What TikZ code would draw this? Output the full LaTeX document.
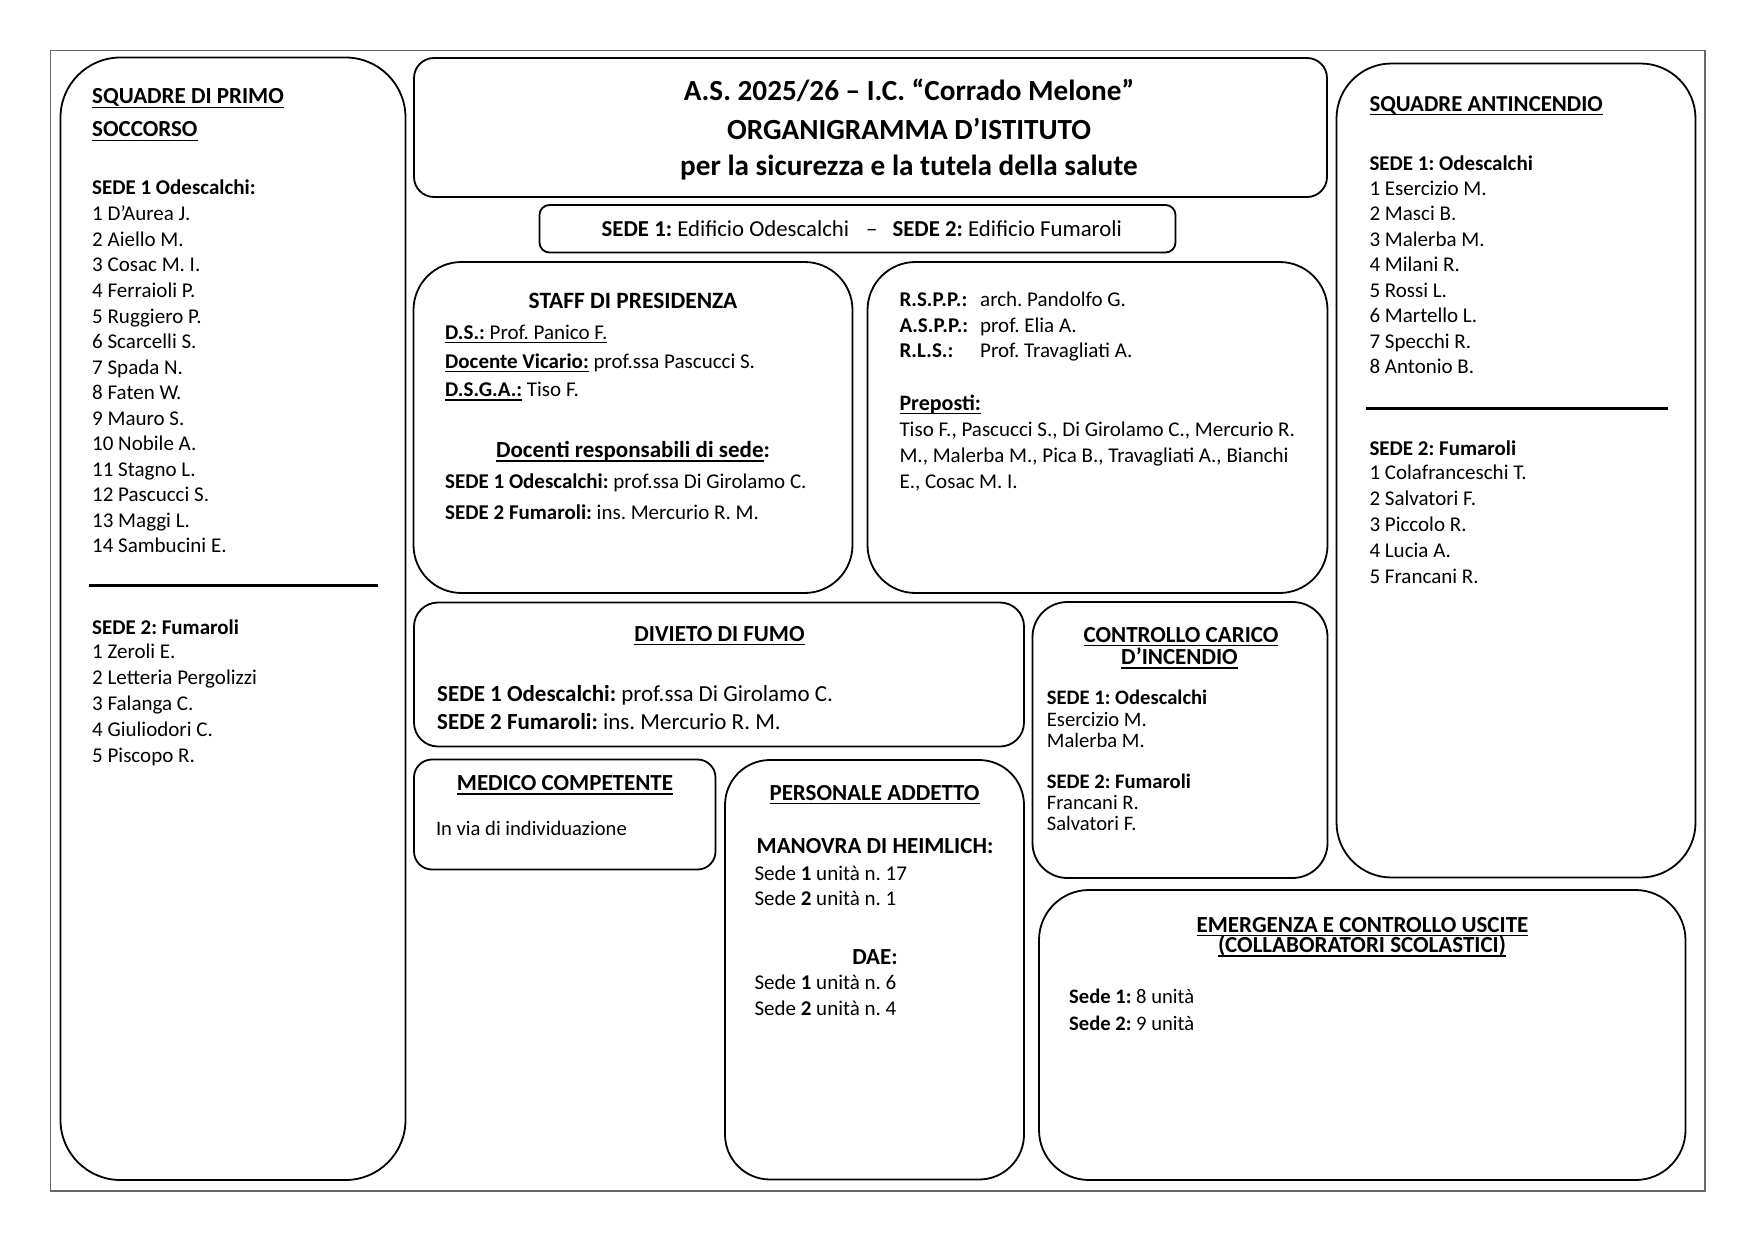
\documentclass[tikz,border=0pt]{standalone}
\usepackage{fontspec}
\setmainfont{Carlito}
\usetikzlibrary{fit}
\frenchspacing

\newsavebox\ulbox
\newcommand\ulin[1]{\sbox\ulbox{#1}\rlap{\rule[-4pt]{\wd\ulbox}{1.4pt}}\usebox\ulbox}
\newcommand\fsz[1]{\fontsize{#1}{#1}\selectfont}

\begin{document}
\begin{tikzpicture}[x=1pt, y=-1pt,
    box/.style={draw, line width=1.8pt, rounded corners=#1pt, inner sep=0pt},
    box/.default=20,
    txt/.style={anchor=base west, inner sep=0pt, font=\fsz{21}},
    ttl/.style={anchor=base, inner sep=0pt, font=\fsz{23}\bfseries},
    sep/.style={line width=3pt}
  ]
  \useasboundingbox (0,0) rectangle (1755,1241);
  \draw[black!60, line width=1.4pt] (50.5,50.5) rectangle (1705,1191);

  % Kaesten
  \node[box=60, fit={(60.5,57.5) (405.5,1180)}]    (ps)  {};
  \node[box=20, fit={(414,58) (1327,197)}]         (tit) {};
  \node[box=10, fit={(539.5,205) (1175.5,252.5)}]  (sedi) {};
  \node[box=48, fit={(413.5,262) (852.5,593)}]     (st)  {};
  \node[box=48, fit={(867.5,262) (1327.5,593)}]    (rs)  {};
  \node[box=55, fit={(1336.5,63.5) (1695.5,877.5)}] (an) {};
  \node[box=24, fit={(414,602.5) (1024,746.5)}]    (fu)  {};
  \node[box=35, fit={(1032.5,602) (1327.5,878)}]   (ca)  {};
  \node[box=18, fit={(414,759.5) (715.5,869.5)}]   (me)  {};
  \node[box=45, fit={(725,760) (1024,1179.5)}]     (ad)  {};
  \node[box=50, fit={(1039,890) (1685.5,1180)}]    (em)  {};

  % Titel
  \node[ttl, font=\fsz{29.2}\bfseries] (tit1) at (909,100.5) {A.S. 2025/26 – I.C. “Corrado Melone”};
  \node[ttl, font=\fsz{29.2}\bfseries] (tit2) at (909,139.5) {ORGANIGRAMMA D’ISTITUTO};
  \node[ttl, font=\fsz{29.2}\bfseries] (tit3) at (909,175.5) {per la sicurezza e la tutela della salute};
  \node[txt, font=\fsz{22.8}] (sedi-t) at (601.5,236.7)
    {\textbf{SEDE 1:} Edificio Odescalchi\hspace{17pt}–\hspace{15pt}\textbf{SEDE 2:} Edificio Fumaroli};

  % Primo soccorso links
  \node[txt, font=\fsz{23}\bfseries] (ps-t1) at (92,104) {\ulin{SQUADRE DI PRIMO}};
  \node[txt, font=\fsz{23}\bfseries] (ps-t2) at (92,137) {\ulin{SOCCORSO}};
  \node[txt, font=\fsz{21}\bfseries] (ps-s1) at (92,195) {SEDE 1 Odescalchi:};
  \foreach \n [count=\i] in {D’Aurea J., Aiello M., Cosac M. I., Ferraioli P., Ruggiero P.,
      Scarcelli S., Spada N., Faten W., Mauro S., Nobile A., Stagno L., Pascucci S.,
      Maggi L., Sambucini E.}
    \node[txt] (ps-a\i) at (92,195.5+25.5*\i) {\i\ \n};
  \draw[sep] (88.5,585.5) -- (377.5,585.5);
  \node[txt, font=\fsz{21}\bfseries] (ps-s2) at (92,634.5) {SEDE 2: Fumaroli};
  \foreach \n [count=\i] in {Zeroli E., Letteria Pergolizzi, Falanga C., Giuliodori C., Piscopo R.}
    \node[txt] (ps-b\i) at (92,633+25.8*\i) {\i\ \n};

  % Staff
  \node[ttl, font=\fsz{23.4}\bfseries] (st-t) at (633,308.7) {STAFF DI PRESIDENZA};
  \node[txt] (st-ds) at (445,339) {\ulin{\textbf{D.S.:} Prof. Panico F.}};
  \node[txt] (st-dv) at (445,368.3) {\ulin{\textbf{Docente Vicario:}} prof.ssa Pascucci S.};
  \node[txt] (st-dg) at (445,396.7) {\ulin{\textbf{D.S.G.A.:}} Tiso F.};
  \node[ttl] (st-doc) at (633,457.7) {\ulin{Docenti responsabili di sede}:};
  \node[txt] (st-s1) at (445,488.3) {\textbf{SEDE 1 Odescalchi:} prof.ssa Di Girolamo C.};
  \node[txt] (st-s2) at (445,519) {\textbf{SEDE 2 Fumaroli:} ins. Mercurio R. M.};

  % RSPP und Preposti
  \foreach \k/\v [count=\i] in {R.S.P.P.:/arch. Pandolfo G., A.S.P.P.:/prof. Elia A.,
      R.L.S.:/Prof. Travagliati A.} {
    \node[txt, font=\fsz{21}\bfseries] (rs-k\i) at (899.3,281+25.5*\i) {\k};
    \node[txt] (rs-v\i) at (980,281+25.5*\i) {\v};
  }
  \node[txt, font=\fsz{22}\bfseries] (rs-p) at (899.3,410) {\ulin{Preposti:}};
  \node[txt] (rs-p1) at (899.3,436) {Tiso F., Pascucci S., Di Girolamo C., Mercurio R.};
  \node[txt] (rs-p2) at (899.3,462) {M., Malerba M., Pica B., Travagliati A., Bianchi};
  \node[txt] (rs-p3) at (899.3,488.5) {E., Cosac M. I.};

  % Antincendio rechts
  \node[txt, font=\fsz{22.8}\bfseries] (an-t) at (1369.3,111.5) {\ulin{SQUADRE ANTINCENDIO}};
  \node[txt, font=\fsz{21}\bfseries] (an-s1) at (1369.3,170.5) {SEDE 1: Odescalchi};
  \foreach \n [count=\i] in {Esercizio M., Masci B., Malerba M., Milani R., Rossi L.,
      Martello L., Specchi R., Antonio B.}
    \node[txt] (an-a\i) at (1369.3,169.5+25.55*\i) {\i\ \n};
  \draw[sep] (1366,408) -- (1668.3,408);
  \node[txt, font=\fsz{21}\bfseries] (an-s2) at (1369.3,455) {SEDE 2: Fumaroli};
  \foreach \n [count=\i] in {Colafranceschi T., Salvatori F., Piccolo R., Lucia A., Francani R.}
    \node[txt] (an-b\i) at (1369.3,454+25.85*\i) {\i\ \n};

  % Divieto di fumo
  \node[ttl] (fu-t) at (719.5,641) {\ulin{DIVIETO DI FUMO}};
  \node[txt, font=\fsz{23}] (fu-1) at (437,701) {\textbf{SEDE 1 Odescalchi:} prof.ssa Di Girolamo C.};
  \node[txt, font=\fsz{23}] (fu-2) at (437,729.5) {\textbf{SEDE 2 Fumaroli:} ins. Mercurio R. M.};

  % Carico d'incendio
  \node[ttl] (ca-t1) at (1181,642) {\ulin{CONTROLLO CARICO}};
  \node[ttl] (ca-t2) at (1179.5,664.5) {\ulin{D’INCENDIO}};
  \node[txt, font=\fsz{20.6}\bfseries] (ca-s1) at (1046.7,704.5) {SEDE 1: Odescalchi};
  \node[txt, font=\fsz{20.6}] (ca-a1) at (1046.7,726) {Esercizio M.};
  \node[txt, font=\fsz{20.6}] (ca-a2) at (1046.7,747) {Malerba M.};
  \node[txt, font=\fsz{20.6}\bfseries] (ca-s2) at (1046.7,788.5) {SEDE 2: Fumaroli};
  \node[txt, font=\fsz{20.6}] (ca-b1) at (1046.7,809.5) {Francani R.};
  \node[txt, font=\fsz{20.6}] (ca-b2) at (1046.7,830) {Salvatori F.};

  % Medico
  \node[ttl] (me-t) at (565,790.5) {\ulin{MEDICO COMPETENTE}};
  \node[txt, font=\fsz{20.6}] (me-1) at (435.8,835) {In via di individuazione};

  % Personale addetto
  \node[ttl] (ad-t) at (874.5,800.3) {\ulin{PERSONALE ADDETTO}};
  \node[ttl] (ad-h) at (875,853.5) {MANOVRA DI HEIMLICH:};
  \node[txt] (ad-h1) at (754.3,880) {Sede \textbf{1} unità n. 17};
  \node[txt] (ad-h2) at (754.3,905) {Sede \textbf{2} unità n. 1};
  \node[ttl] (ad-d) at (875,964) {DAE:};
  \node[txt] (ad-d1) at (754.3,989.3) {Sede \textbf{1} unità n. 6};
  \node[txt] (ad-d2) at (754.3,1015) {Sede \textbf{2} unità n. 4};

  % Emergenza
  \node[ttl] (em-t1) at (1362.5,932) {\ulin{EMERGENZA E CONTROLLO USCITE}};
  \node[ttl] (em-t2) at (1362,952.7) {\ulin{(COLLABORATORI SCOLASTICI)}};
  \node[txt, font=\fsz{20.6}] (em-1) at (1069,1003.7) {\textbf{Sede 1:} 8 unità};
  \node[txt, font=\fsz{20.6}] (em-2) at (1069,1030.3) {\textbf{Sede 2:} 9 unità};
\end{tikzpicture}
\end{document}
